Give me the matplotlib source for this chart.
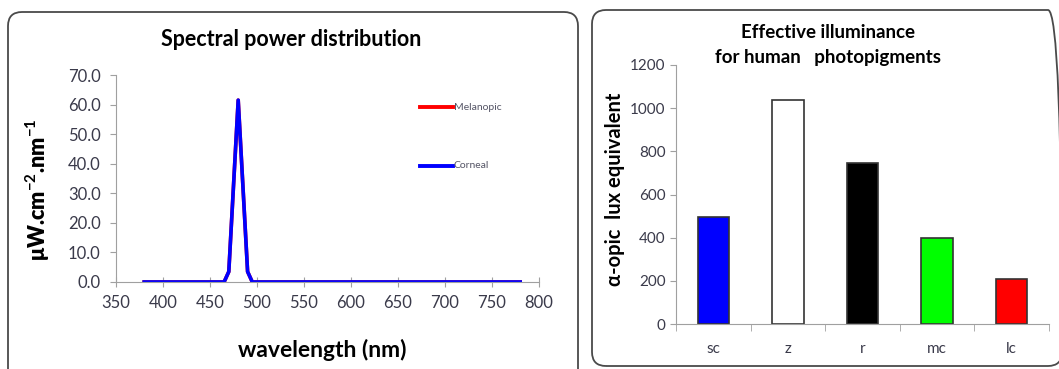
import matplotlib
matplotlib.use("Agg")
import matplotlib.pyplot as plt
from matplotlib.patches import FancyBboxPatch
from matplotlib.transforms import IdentityTransform
import numpy as np

plt.rcParams['font.family'] = ['Lato', 'DejaVu Sans']
plt.rcParams['mathtext.fontset'] = 'custom'
plt.rcParams['mathtext.rm'] = 'Lato:bold'
plt.rcParams['mathtext.bf'] = 'Lato:bold'
plt.rcParams['mathtext.it'] = 'Lato:bold'

# spectral power distribution, 5 nm steps
wavelength = np.arange(380, 785, 5)
peak_nm = [465, 470, 475, 480, 485, 490, 495]
peak_val = [0.0, 3.5, 32.5, 61.5, 32.5, 3.5, 0.0]
corneal = np.zeros(len(wavelength))
for w, v in zip(peak_nm, peak_val):
    corneal[wavelength == w] = v
melanopic = corneal.copy()

# alpha-opic illuminance
pigments = ['sc', 'z', 'r', 'mc', 'lc']
lux = [497, 1040, 748, 400, 210]
bar_colors = ['#0000ff', '#ffffff', '#000000', '#00ff00', '#ff0000']

W, H = 1059, 369
fig = plt.figure(figsize=(W / 100, H / 100), dpi=100)
fig.patch.set_facecolor('white')

def px_axes(x0, y0, x1, y1):
    return fig.add_axes([x0 / W, 1 - y1 / H, (x1 - x0) / W, (y1 - y0) / H])

def panel_box(x0, y0, x1, y1):
    # drawn in pixel units so the corner radius stays round
    box = FancyBboxPatch((x0, H - y1), x1 - x0, y1 - y0,
                         boxstyle="round,pad=0,rounding_size=14",
                         transform=IdentityTransform(), facecolor='none',
                         edgecolor='#4a4a4a', linewidth=1.3)
    fig.patches.append(box)

panel_box(8, 12, 578, 385)
panel_box(592, 10, 1062, 366)

tick_col = '#3a3a4a'
spine_col = '#a0a0a0'

# left: spectrum
ax1 = px_axes(116, 75, 539, 282)
ax1.plot(wavelength, melanopic, color='#ff0000', lw=2.6, label='Melanopic')
ax1.plot(wavelength, corneal, color='#0000ff', lw=2.6, label='Corneal')
ax1.set_xlim(350, 800)
ax1.set_ylim(0, 70)
ax1.set_xticks(np.arange(350, 801, 50))
ax1.set_yticks(np.arange(0, 71, 10))
ax1.set_yticklabels([f'{v:.1f}' for v in np.arange(0, 71, 10)])
for s in ['top', 'right']:
    ax1.spines[s].set_visible(False)
for s in ['left', 'bottom']:
    ax1.spines[s].set_color(spine_col)
ax1.tick_params(colors=tick_col, labelsize=12, length=4, color=spine_col)
ax1.tick_params(axis='x', direction='inout', length=7, pad=6)
ax1.tick_params(axis='y', direction='out', pad=7)
fig.text(291 / W, 1 - 40 / H, 'Spectral power distribution', fontsize=15.5,
         fontweight='bold', ha='center', va='center')
fig.text(322 / W, 1 - 350 / H, 'wavelength (nm)', fontsize=16.5,
         fontweight='bold', ha='center', va='center')
fig.text(38 / W, 1 - 190 / H, r'μW.cm$^{-2}$.nm$^{-1}$', fontsize=15.5,
         fontweight='heavy', ha='center', va='center', rotation=90)

# legend entries placed by hand
for i, (lbl, col) in enumerate([('Melanopic', '#ff0000'), ('Corneal', '#0000ff')]):
    y = (107 if i == 0 else 166)
    fig.lines.append(plt.Line2D([420 / W, 453 / W], [1 - y / H, 1 - y / H],
                                color=col, lw=2.8, transform=fig.transFigure))
    fig.text(454 / W, 1 - y / H, lbl, fontsize=7.5, color='#555566', va='center')

# right: bar chart
ax2 = px_axes(676, 65, 1049, 324)
x = np.arange(len(pigments))
ax2.bar(x, lux, width=0.42, color=bar_colors, edgecolor='#333333', linewidth=1.2)
ax2.set_xlim(-0.5, len(pigments) - 0.5)
ax2.set_ylim(0, 1200)
ax2.set_yticks(np.arange(0, 1201, 200))
ax2.set_xticks(x)
ax2.set_xticklabels(pigments)
ax2.set_xticks(np.arange(-0.5, len(pigments), 1), minor=True)
ax2.tick_params(axis='x', which='major', length=0, pad=13, labelsize=11,
                colors=tick_col)
ax2.tick_params(axis='x', which='minor', length=5, direction='out',
                color=spine_col)
ax2.tick_params(axis='y', colors=tick_col, labelsize=11, length=4,
                color=spine_col)
for s in ['top', 'right']:
    ax2.spines[s].set_visible(False)
for s in ['left', 'bottom']:
    ax2.spines[s].set_color(spine_col)
fig.text(615 / W, 1 - 189 / H, u'\u03b1-opic  lux equivalent', fontsize=14.5,
         fontweight='bold', ha='center', va='center', rotation=90)
fig.text(828 / W, 1 - 32 / H, 'Effective illuminance', fontsize=13.5,
         fontweight='bold', ha='center', va='center')
fig.text(828 / W, 1 - 58 / H, 'for human   photopigments', fontsize=13.5,
         fontweight='bold', ha='center', va='center')

fig.savefig('out.png', dpi=100)
